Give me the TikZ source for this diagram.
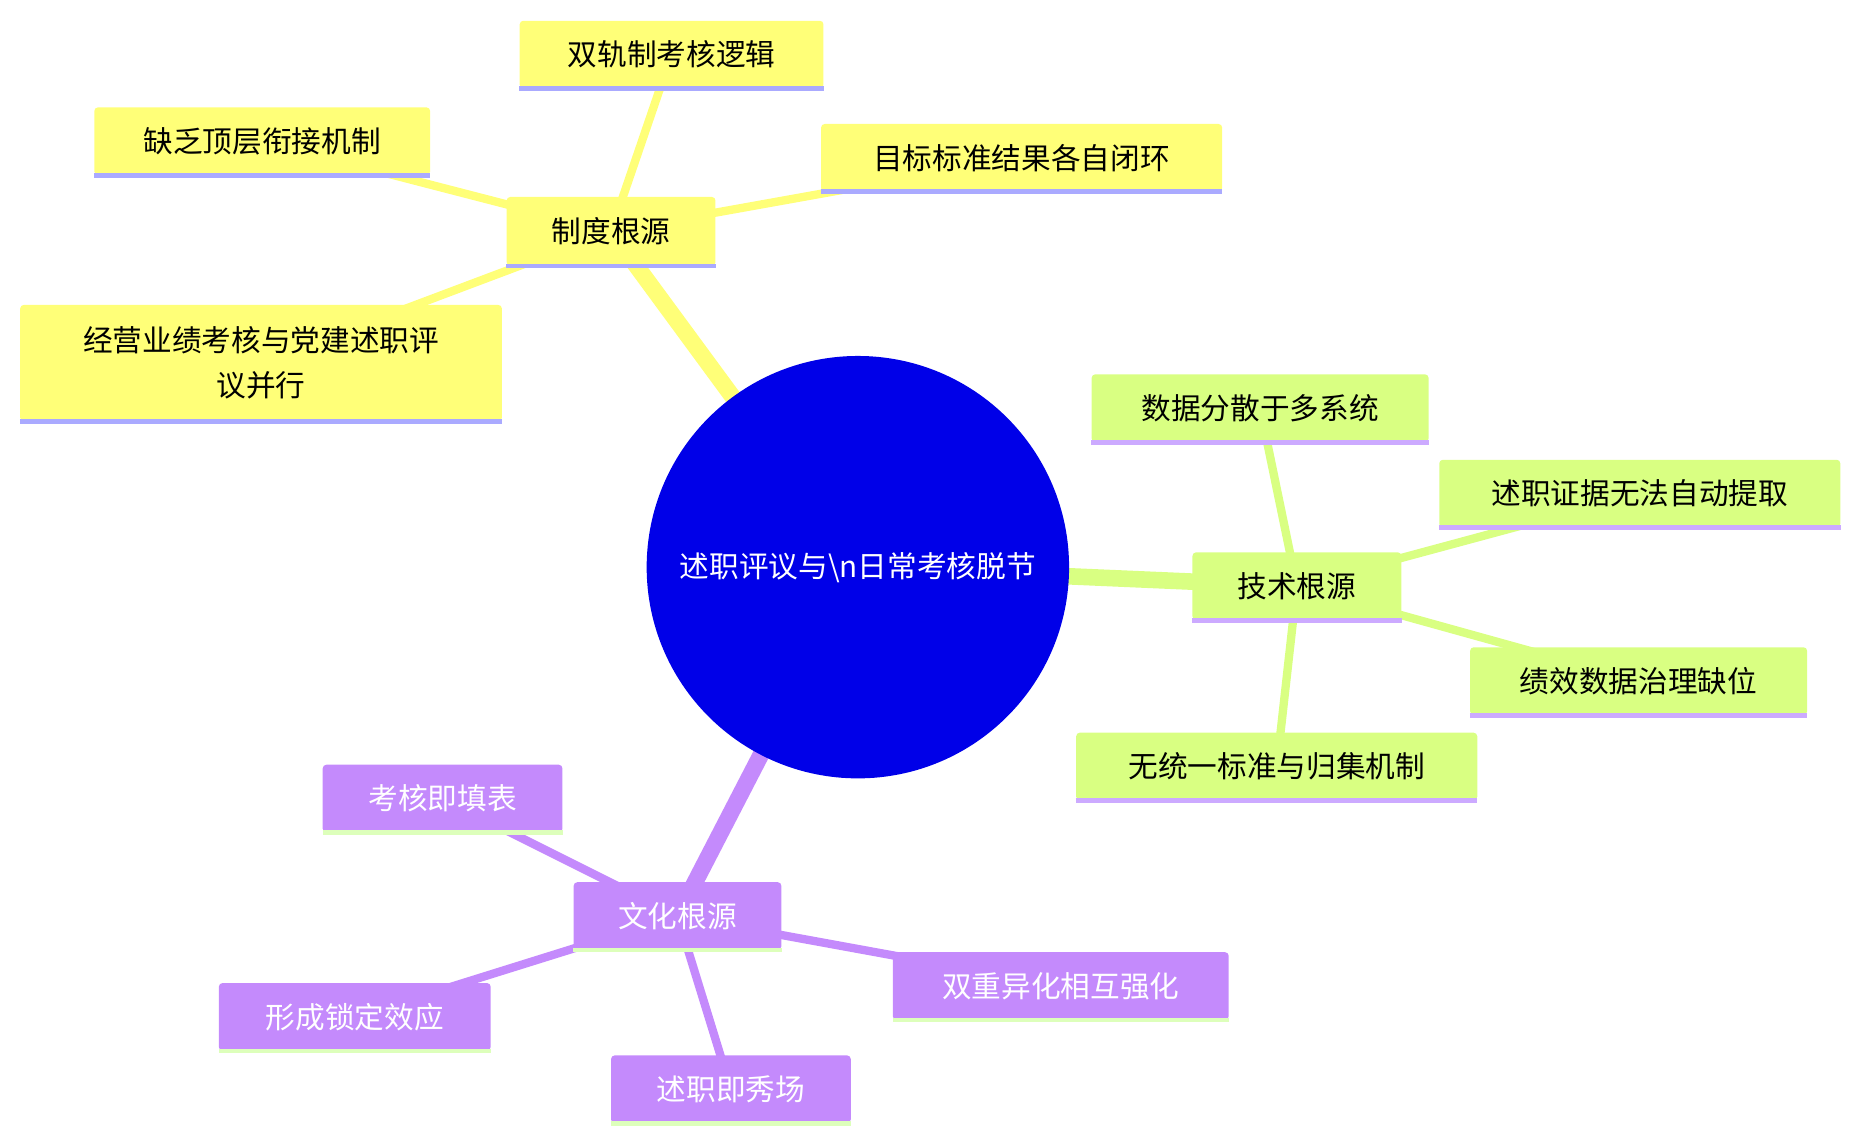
\documentclass[tikz,border=0pt]{standalone}
\usepackage{fontspec}
\newfontfamily\cjk{Noto Sans CJK SC}
\definecolor{yel}{HTML}{FFFF78}
\definecolor{grn}{HTML}{D9FF82}
\definecolor{pur}{HTML}{C48AFC}
\definecolor{lav}{HTML}{AAAAFF}
\definecolor{lav2}{HTML}{CCAAFF}
\definecolor{lgr}{HTML}{DDFFBB}
\definecolor{ctr}{HTML}{0000E8}
\tikzset{
 box/.style={rounded corners=3pt, minimum height=57pt, inner sep=0pt, align=center, font=\cjk\fontsize{25}{38}\selectfont},
 ybox/.style={box, fill=yel, text=black},
 gbox/.style={box, fill=grn, text=black},
 pbox/.style={box, fill=pur, text=white},
}
\begin{document}
\begin{tikzpicture}[x=1pt,y=-1pt]
\useasboundingbox (0,0) rectangle (1560,958);
% edges
\draw[yel, line width=14pt] (723,478) -- (515,195);
\draw[grn, line width=14pt] (723,478) -- (1093,494);
\draw[pur, line width=14pt] (723,478) -- (571,772);
\foreach \p in {(566,46),(221,119),(861,133),(220,306)} \draw[yel,line width=7pt] (515,195) -- \p;
\foreach \p in {(1062,344),(1382,416),(1381,574),(1076,646)} \draw[grn,line width=7pt] (1093,494) -- \p;
\foreach \p in {(373,673),(299,857),(616,918),(894,831)} \draw[pur,line width=7pt] (571,772) -- \p;
% center
\node[circle, fill=ctr, minimum size=356pt, inner sep=0pt, text=white, font=\cjk\fontsize{25}{38}\selectfont] (c) at (723,478) {述职评议与\textbackslash n日常考核脱节};
% yellow
\node[ybox, minimum width=176pt, minimum height=58pt] (b1) at (515,195) {制度根源};
\node[ybox, minimum width=256pt] (y1) at (566,46) {双轨制考核逻辑};
\node[ybox, minimum width=283pt] (y2) at (221,119) {缺乏顶层衔接机制};
\node[ybox, minimum width=338pt] (y3) at (861,133) {目标标准结果各自闭环};
\node[ybox, minimum width=406pt, minimum height=98pt] (y4) at (220,306) {经营业绩考核与党建述职评\\议并行};
% green
\node[gbox, minimum width=176pt] (b2) at (1093,494) {技术根源};
\node[gbox, minimum width=284pt] (g1) at (1062,344) {数据分散于多系统};
\node[gbox, minimum width=338pt] (g2) at (1382,416) {述职证据无法自动提取};
\node[gbox, minimum width=284pt] (g3) at (1381,574) {绩效数据治理缺位};
\node[gbox, minimum width=338pt] (g4) at (1076,646) {无统一标准与归集机制};
% purple
\node[pbox, minimum width=175pt] (b3) at (571,772) {文化根源};
\node[pbox, minimum width=202pt] (p1) at (373,673) {考核即填表};
\node[pbox, minimum width=229pt] (p2) at (299,857) {形成锁定效应};
\node[pbox, minimum width=202pt] (p3) at (616,918) {述职即秀场};
\node[pbox, minimum width=283pt] (p4) at (894,831) {双重异化相互强化};
% bottom lines
\foreach \n in {b1,y1,y2,y3,y4} \draw[lav, line width=4pt] (\n.south west) -- (\n.south east);
\foreach \n in {b2,g1,g2,g3,g4} \draw[lav2, line width=4pt] (\n.south west) -- (\n.south east);
\foreach \n in {b3,p1,p2,p3,p4} \draw[lgr, line width=4pt] (\n.south west) -- (\n.south east);
\end{tikzpicture}
\end{document}
